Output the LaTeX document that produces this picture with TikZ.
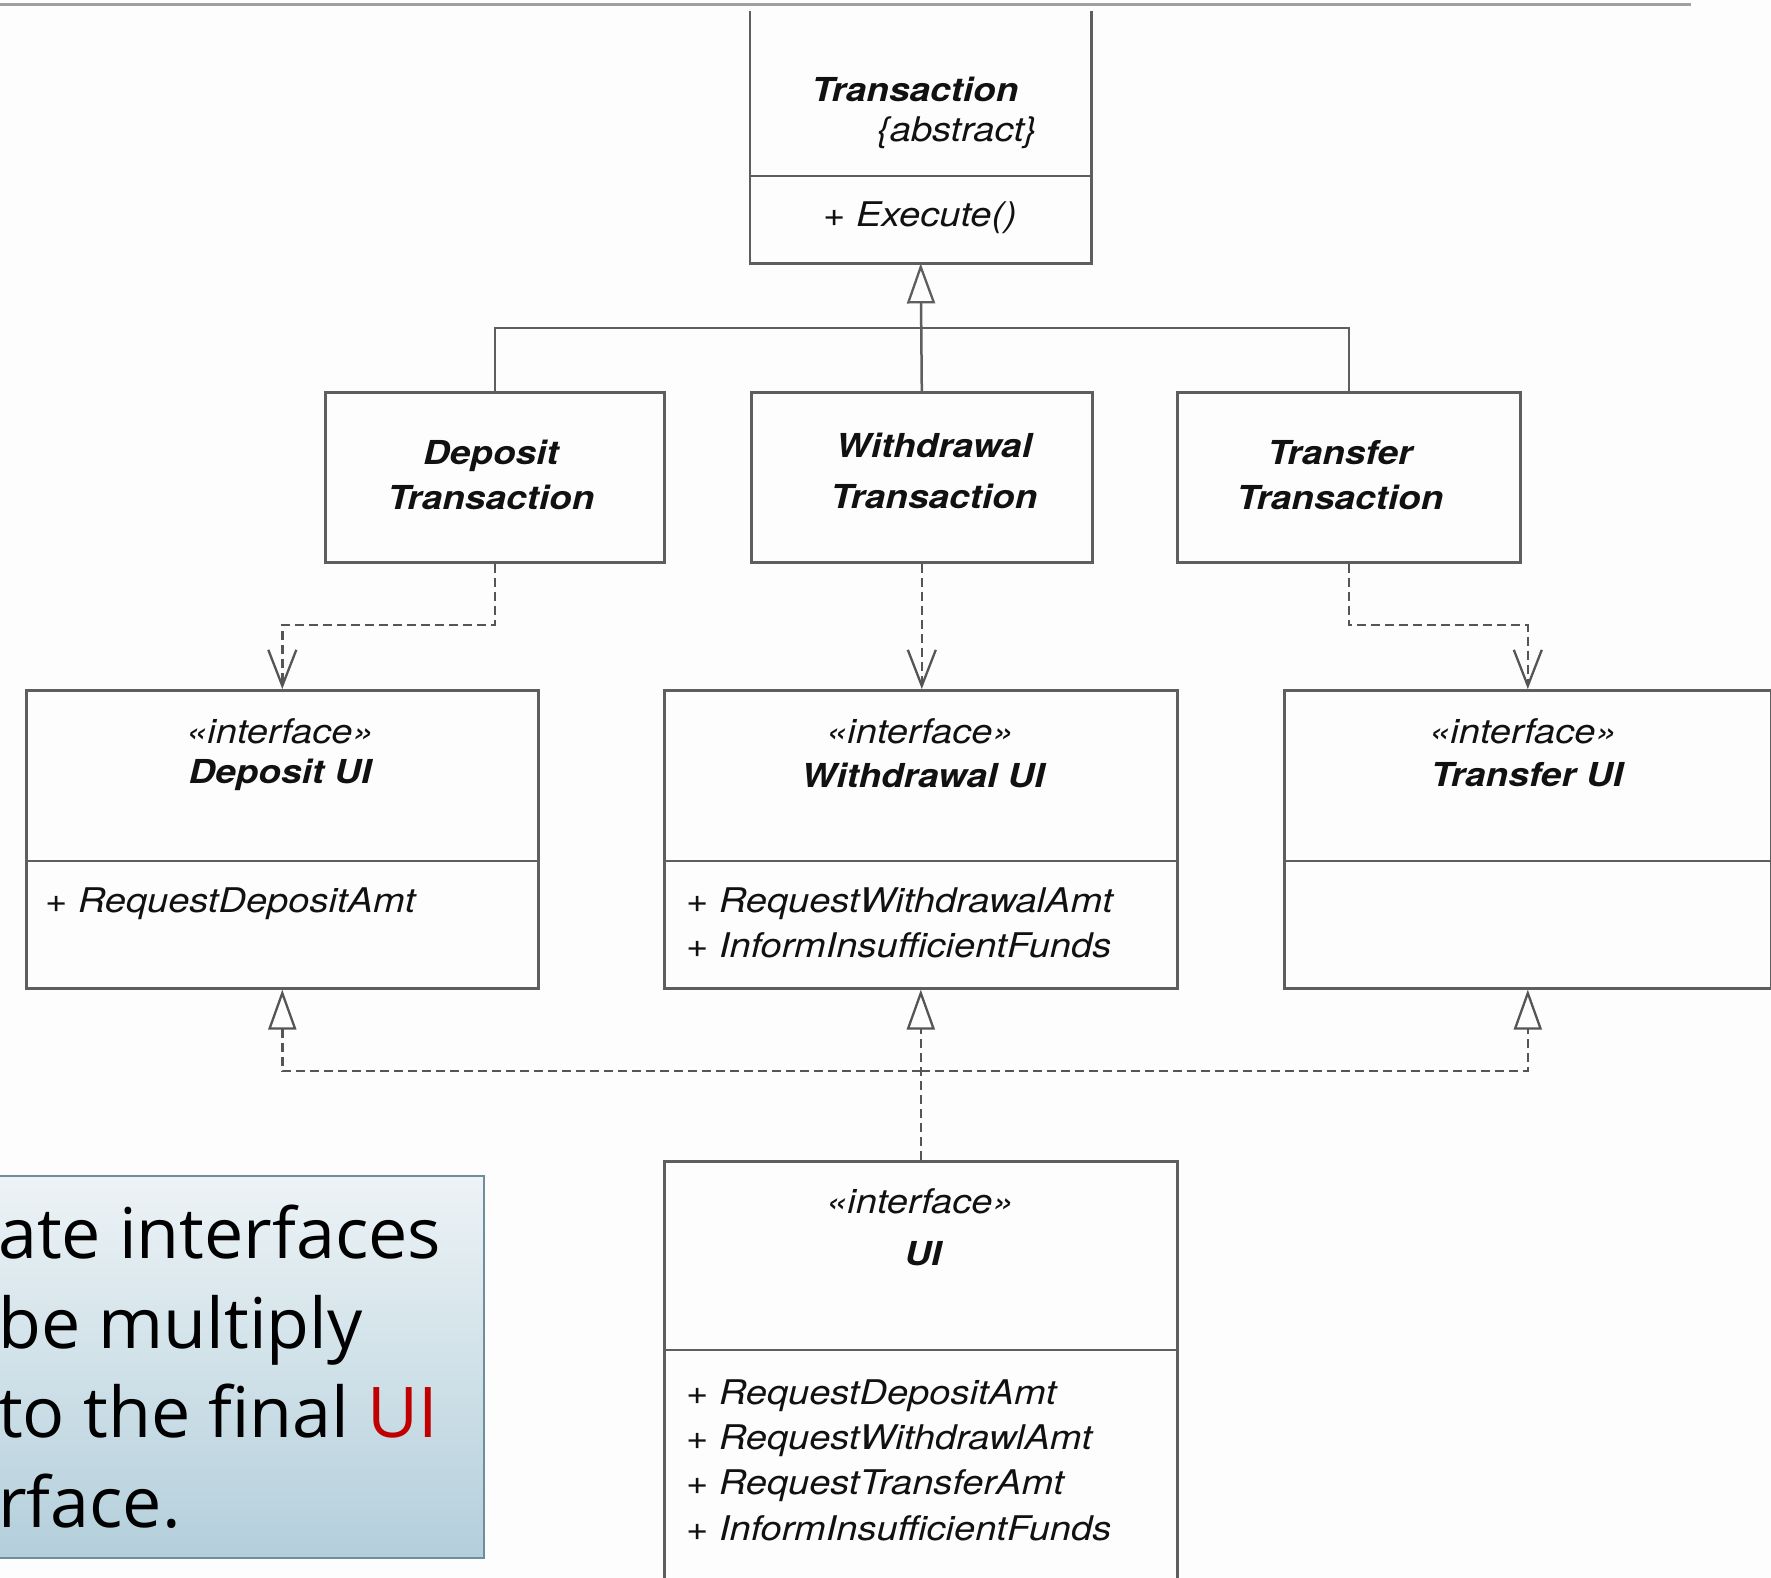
\documentclass[tikz,border=0pt]{standalone}
\usepackage{fontspec}
\usetikzlibrary{arrows.meta,calc}
\newfontfamily\umlfont[FakeStretch=1.12]{TeX Gyre Heros}
\newfontfamily\notefont{Open Sans}
\definecolor{bgc}{HTML}{FDFDFD}
\definecolor{linegray}{HTML}{5E5E5E}
\definecolor{dashc}{HTML}{555555}
\definecolor{textc}{HTML}{111111}
\definecolor{rulec}{HTML}{A0A0A0}
\definecolor{noteTop}{HTML}{EDF3F6}
\definecolor{noteBot}{HTML}{B3CFDB}
\definecolor{noteBorder}{HTML}{6F8E9C}
\definecolor{uired}{HTML}{C00000}

\tikzset{
  classbox/.style={draw=linegray, line width=2.6pt, fill=bgc, inner sep=0pt, anchor=north west},
  openbox/.style={inner sep=0pt, anchor=north west},
  boxline/.style={draw=linegray, line width=2.6pt},
  umlname/.style={inner sep=0pt, text=textc, align=center,
    font=\umlfont\fontsize{33}{45}\selectfont\bfseries\itshape},
  umlplain/.style={inner sep=0pt, text=textc,
    font=\umlfont\fontsize{34}{45}\selectfont\itshape},
  gen/.style={draw=linegray, line width=2.5pt,
    -{Triangle[open, length=40pt, width=28pt, line width=2.3pt]}},
  dep/.style={draw=dashc, line width=2.5pt, dash pattern=on 9pt off 5pt,
    -{Straight Barb[length=36pt, width=28pt, line width=2.3pt]}},
  real/.style={draw=dashc, line width=2.5pt, dash pattern=on 9pt off 5pt,
    -{Triangle[open, length=40pt, width=28pt, line width=2.3pt]}},
  notetext/.style={inner sep=0pt, anchor=base west, text=black,
    font=\notefont\fontsize{70}{90}\selectfont},
}

\begin{document}
\begin{tikzpicture}[x=1pt, y=-1pt]
  \useasboundingbox (0,0) rectangle (1771,1578);
  \fill[bgc] (0,0) rectangle (1771,1578);

  % header rule
  \draw[rulec, line width=3pt] (0,5) -- (1691,5);

  % abstract base class (top edge runs off above)
  \node[openbox, minimum width=341pt, minimum height=252pt] (trans) at (750,11) {};
  \draw[boxline] (trans.north west) -- (trans.south west) -- (trans.south east) -- (trans.north east);
  \draw[boxline] (trans.west |- 0,176) -- (trans.east |- 0,176);
  \node[umlname] (trans-name) at (915,89) {Transaction};
  \node[umlplain] (trans-abs) at (957,133) {\{abstract\}};
  \node[umlplain] (trans-op) at (920,218) {+ Execute()};

  % concrete transactions
  \node[classbox, minimum width=339pt, minimum height=170pt] (dtx) at (324,391) {};
  \node[classbox, minimum width=341pt, minimum height=170pt] (wtx) at (750,391) {};
  \node[classbox, minimum width=343pt, minimum height=170pt] (ttx) at (1176,391) {};
  \node[umlname] (dtx-name) at (491,475) {Deposit\\Transaction};
  \node[umlname] (wtx-name) at (934,471) {Withdrawal\\[6pt]Transaction};
  \node[umlname] (ttx-name) at (1340,475) {Transfer\\Transaction};

  % inheritance tree
  \draw[boxline] (dtx.north) |- (0,328 -| ttx.north) -- (ttx.north);
  \draw[gen] (wtx.north) -- (trans.south);

  % per-transaction interfaces
  \node[classbox, minimum width=512pt, minimum height=298pt] (dui) at (25,689) {};
  \node[classbox, minimum width=513pt, minimum height=298pt] (wui) at (663,689) {};
  \node[classbox, minimum width=487pt, minimum height=298pt] (tui) at (1283,689) {};
  \foreach \b in {dui,wui,tui}
    \draw[boxline] (\b.west |- 0,861) -- (\b.east |- 0,861);

  \node[umlplain] (dui-st) at (280,731) {«interface»};
  \node[umlname]  (dui-name) at (280,775) {Deposit UI};
  \node[umlplain, anchor=base west] (dui-op1) at (45,912) {+ RequestDepositAmt};

  \node[umlplain] (wui-st) at (920,731) {«interface»};
  \node[umlname]  (wui-name) at (923,775) {Withdrawal UI};
  \node[umlplain, anchor=base west] (wui-op1) at (686,912) {+ RequestWithdrawalAmt};
  \node[umlplain, anchor=base west] (wui-op2) at (686,957) {+ InformInsufficientFunds};

  \node[umlplain] (tui-st) at (1523,731) {«interface»};
  \node[umlname]  (tui-name) at (1527,775) {Transfer UI};

  % dependencies
  \draw[dep] (dtx.south) -- (dtx.south |- 0,625) -| (dui.north);
  \draw[dep] (wtx.south) -- (wtx.south |- wui.north);
  \draw[dep] (ttx.south) -- (ttx.south |- 0,625) -| (tui.north);

  % combined interface (runs off below)
  \node[classbox, minimum width=513pt, minimum height=440pt] (ui) at (663,1160) {};
  \draw[boxline] (ui.west |- 0,1350) -- (ui.east |- 0,1350);
  \node[umlplain] (ui-st) at (920,1201) {«interface»};
  \node[umlname]  (ui-name) at (923,1254) {UI};
  \node[umlplain, anchor=base west] (ui-op1) at (686,1404) {+ RequestDepositAmt};
  \node[umlplain, anchor=base west] (ui-op2) at (686,1449) {+ RequestWithdrawlAmt};
  \node[umlplain, anchor=base west] (ui-op3) at (686,1494) {+ RequestTransferAmt};
  \node[umlplain, anchor=base west] (ui-op4) at (686,1540) {+ InformInsufficientFunds};

  % realizations
  \coordinate (join) at (ui.north |- 0,1071);
  \draw[real] (join) -| (dui.south);
  \draw[real] (join) -| (tui.south);
  \draw[real] (ui.north) -- (wui.south);

  % callout
  \node[draw=noteBorder, line width=2pt, top color=noteTop, bottom color=noteBot,
        minimum width=540pt, minimum height=382pt, inner sep=0pt, anchor=north east]
        (note) at (485,1175) {};
  \node[notetext] (note1) at (-2,1258) {ate interfaces};
  \node[notetext] (note2) at (-2,1348) {be multiply};
  \node[notetext] (note3) at (-2,1437) {to the final \textcolor{uired}{UI}};
  \node[notetext] (note4) at (-2,1527) {rface.};
\end{tikzpicture}
\end{document}
